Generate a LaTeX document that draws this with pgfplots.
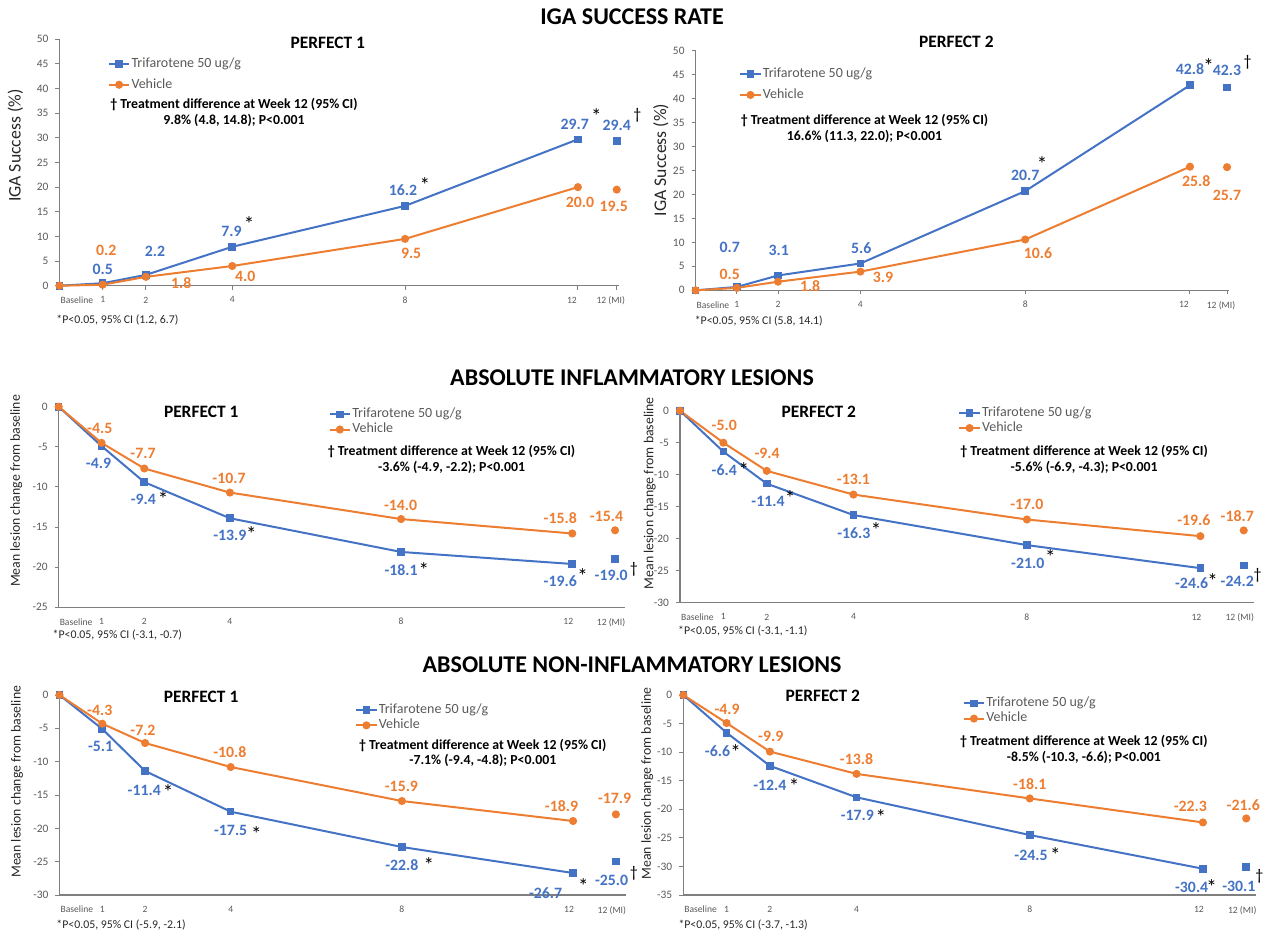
\documentclass[border=0pt]{standalone}
\usepackage{pgfplots}
\pgfplotsset{compat=1.18}
\usepackage{fontspec}
\setmainfont{Carlito}
\definecolor{cblue}{HTML}{4472C4}
\definecolor{corange}{HTML}{ED7D31}
\definecolor{tickgray}{HTML}{595959}
\definecolor{axisgray}{HTML}{7F7F7F}
\newcommand{\bl}[3]{\node[font=\bfseries\fontsize{7.9}{8}\selectfont, text=cblue, inner sep=0pt] at (axis cs:#1,#2) {#3};}
\newcommand{\ol}[3]{\node[font=\bfseries\fontsize{7.9}{8}\selectfont, text=corange, inner sep=0pt] at (axis cs:#1,#2) {#3};}
\newcommand{\st}[2]{\node[font=\fontsize{10.5}{10}\selectfont, inner sep=0pt] at (axis cs:#1,#2) {*};}
\newcommand{\dg}[2]{\node[font=\fontsize{8}{8}\selectfont, inner sep=0pt] at (axis cs:#1,#2) {†};}
\newcommand{\ptitle}[3]{\node[font=\bfseries\fontsize{8.7}{9}\selectfont] at (axis cs:#1,#2) {#3};}
\newcommand{\annot}[3]{\node[font=\bfseries\fontsize{6.9}{7.9}\selectfont, align=center] at (axis cs:#1,#2) {† Treatment difference at Week 12 (95\% CI)\\#3};}
\newcommand{\foot}[3]{\node[anchor=west, font=\fontsize{5.9}{6}\selectfont, inner sep=0pt, text=black!85] at (axis cs:#1,#2) {#3};}
\newcommand{\ylab}[4]{\node[rotate=90, font=\fontsize{#3}{9}\selectfont, text=black!85] at (axis cs:#1,#2) {#4};}
\pgfplotsset{
 panel/.style={
  scale only axis, clip=false, anchor=south west,
  axis x line*=bottom, axis y line*=left,
  axis line style={draw=axisgray, line width=0.6pt},
  xmin=0,
  tick align=outside, major tick length=2pt,
  tick style={axisgray, line width=0.5pt},
  /pgf/number format/assume math mode=true,
  yticklabel style={font=\fontsize{5.7}{6}\selectfont, text=tickgray},
  xticklabel style={font=\fontsize{4.8}{5}\selectfont, text=tickgray},
  extra x ticks={0}, extra x tick labels={Baseline},
  extra x tick style={xticklabel style={anchor=north west, xshift=-3pt}},
  legend style={draw=none, fill=none, anchor=west, inner sep=0pt,
    font=\fontsize{7}{8}\selectfont, cells={anchor=west},
    nodes={inner sep=0.6pt, text=tickgray}},
  legend image code/.code={\draw[mark repeat=2,mark phase=2] plot coordinates {(0cm,0cm) (0.18cm,0cm) (0.36cm,0cm)};},
 },
 tri/.style={color=cblue, mark=square*, mark size=1.4pt, line width=1pt},
 veh/.style={color=corange, mark=*, mark size=1.5pt, line width=1pt},
}
\begin{document}
\begin{tikzpicture}
\path[use as bounding box] (0,0) rectangle (631.5pt,-466.5pt);
\node[font=\bfseries\fontsize{12}{14}\selectfont] at (316pt,-8.5pt) {IGA SUCCESS RATE};
\node[font=\bfseries\fontsize{12}{14}\selectfont] at (316pt,-189pt) {ABSOLUTE INFLAMMATORY LESIONS};
\node[font=\bfseries\fontsize{12}{14}\selectfont] at (316pt,-332.5pt) {ABSOLUTE NON-INFLAMMATORY LESIONS};

% ---------- IGA PERFECT 1
\begin{axis}[panel, at={(29.75pt,-142.85pt)}, width=279.7pt, height=123.2pt,
  xmax=12.95, ymin=0, ymax=50, ytick={0,5,...,50},
  xtick={1,2,4,8,12,12.9}, xticklabels={1,2,4,8,12\hspace*{6pt},12 (MI)\hspace*{6pt}},
  legend style={at={(0.0857,0.858)}, row sep=2.9pt}]
\addplot[tri] coordinates {(0,0)(1,0.5)(2,2.2)(4,7.9)(8,16.2)(12,29.7)};
\addplot[veh] coordinates {(0,0)(1,0.2)(2,1.8)(4,4.0)(8,9.5)(12,20.0)};
\addplot[tri, only marks, forget plot] coordinates {(12.9,29.4)};
\addplot[veh, only marks, forget plot] coordinates {(12.9,19.5)};
\legend{Trifarotene 50 ug/g, Vehicle}
\bl{1.0}{3.4}{0.5} \ol{1.08}{7.2}{0.2} \bl{2.21}{6.9}{2.2} \ol{2.82}{0.5}{1.8}
\bl{3.98}{11.0}{7.9} \st{4.39}{12.5} \ol{4.3}{1.83}{4.0}
\bl{7.95}{19.35}{16.2} \st{8.46}{20.5} \ol{8.14}{6.6}{9.5}
\bl{11.93}{32.75}{29.7} \st{12.43}{34.5} \bl{12.9}{32.5}{29.4} \dg{13.38}{34.6}
\ol{12.05}{16.98}{20.0} \ol{12.83}{16.2}{19.5}
\ptitle{6.21}{49.3}{PERFECT 1}
\annot{4.04}{35.1}{9.8\% (4.8, 14.8); P<0.001}
\foot{-0.08}{-7.0}{*P<0.05, 95\% CI (1.2, 6.7)}
\ylab{-1.02}{28.4}{8.85}{IGA Success (\%)}
\end{axis}

% ---------- IGA PERFECT 2
\begin{axis}[panel, at={(347.8pt,-145.15pt)}, width=266.75pt, height=119.8pt,
  xmax=12.95, ymin=0, ymax=50, ytick={0,5,...,50},
  xtick={1,2,4,8,12,12.9}, xticklabels={1,2,4,8,12\hspace*{6pt},12 (MI)\hspace*{6pt}},
  legend style={at={(0.081,0.859)}, row sep=2.9pt}]
\addplot[tri] coordinates {(0,0)(1,0.7)(2,3.1)(4,5.6)(8,20.7)(12,42.8)};
\addplot[veh] coordinates {(0,0)(1,0.5)(2,1.8)(4,3.9)(8,10.6)(12,25.8)};
\addplot[tri, only marks, forget plot] coordinates {(12.9,42.3)};
\addplot[veh, only marks, forget plot] coordinates {(12.9,25.7)};
\legend{Trifarotene 50 ug/g, Vehicle}
\bl{0.83}{9.04}{0.7} \ol{0.83}{3.34}{0.5} \bl{2.02}{8.3}{3.1} \ol{2.78}{0.9}{1.8}
\bl{4.02}{8.8}{5.6} \ol{4.55}{2.7}{3.9}
\bl{8.0}{24.0}{20.7} \st{8.41}{26.3} \ol{8.31}{7.65}{10.6}
\bl{12.0}{46.1}{42.8} \st{12.45}{46.9} \bl{12.9}{45.8}{42.3} \dg{13.4}{47.5}
\ol{12.15}{22.8}{25.8} \ol{12.9}{19.9}{25.7}
\ptitle{6.33}{51.8}{PERFECT 2}
\annot{4.1}{33.8}{16.6\% (11.3, 22.0); P<0.001}
\foot{-0.03}{-6.4}{*P<0.05, 95\% CI (5.8, 14.1)}
\ylab{-0.845}{27.2}{8.85}{IGA Success (\%)}
\end{axis}

% ---------- Inflammatory PERFECT 1
\begin{axis}[panel, at={(29.35pt,-303.65pt)}, width=283.1pt, height=100.3pt,
  xmax=13.23, ymin=-25, ymax=0, ytick={-25,-20,...,0},
  xtick={1,2,4,8,12,13}, xticklabels={1,2,4,8,12\hspace*{4pt},12 (MI)\hspace*{4pt}}, xtick style={draw=none},
  legend style={at={(0.476,0.924)}, row sep=0pt}]
\addplot[tri] coordinates {(0,0)(1,-4.9)(2,-9.4)(4,-13.9)(8,-18.1)(12,-19.6)};
\addplot[veh] coordinates {(0,0)(1,-4.5)(2,-7.7)(4,-10.7)(8,-14.0)(12,-15.8)};
\addplot[tri, only marks, forget plot] coordinates {(13,-19.0)};
\addplot[veh, only marks, forget plot] coordinates {(13,-15.4)};
\legend{Trifarotene 50 ug/g, Vehicle}
\ol{0.96}{-2.7}{-4.5} \bl{0.93}{-7.06}{-4.9} \ol{1.97}{-5.8}{-7.7}
\bl{1.98}{-11.6}{-9.4} \st{2.44}{-11.55} \ol{3.98}{-8.9}{-10.7}
\bl{4.0}{-16.0}{-13.9} \st{4.5}{-15.85} \ol{7.99}{-12.25}{-14.0}
\bl{8.0}{-20.35}{-18.1} \st{8.53}{-20.35} \ol{11.72}{-13.9}{-15.8} \ol{12.8}{-13.7}{-15.4}
\bl{11.72}{-21.7}{-19.6} \st{12.24}{-21.05} \bl{12.91}{-21.0}{-19.0} \dg{13.44}{-20.3}
\ptitle{3.33}{-0.6}{PERFECT 1}
\annot{9.18}{-6.55}{-3.6\% (-4.9, -2.2); P<0.001}
\foot{-0.15}{-28.4}{*P<0.05, 95\% CI (-3.1, -0.7)}
\ylab{-0.99}{-10.5}{6.9}{Mean lesion change from baseline}
\end{axis}

% ---------- Inflammatory PERFECT 2
\begin{axis}[panel, at={(340pt,-301.35pt)}, width=286.85pt, height=96pt,
  xmax=13.23, ymin=-30, ymax=0, ytick={-30,-25,...,0},
  xtick={1,2,4,8,12,13}, xticklabels={1,2,4,8,12\hspace*{4pt},12 (MI)\hspace*{4pt}}, xtick style={draw=none},
  legend style={at={(0.4845,0.949)}, row sep=0pt}]
\addplot[tri] coordinates {(0,0)(1,-6.4)(2,-11.4)(4,-16.3)(8,-21.0)(12,-24.6)};
\addplot[veh] coordinates {(0,0)(1,-5.0)(2,-9.4)(4,-13.1)(8,-17.0)(12,-19.6)};
\addplot[tri, only marks, forget plot] coordinates {(13,-24.2)};
\addplot[veh, only marks, forget plot] coordinates {(13,-18.7)};
\legend{Trifarotene 50 ug/g, Vehicle}
\ol{1.02}{-2.34}{-5.0} \bl{1.02}{-9.27}{-6.4} \st{1.47}{-9.2}
\ol{2.01}{-6.67}{-9.4} \bl{2.03}{-14.1}{-11.4} \st{2.54}{-13.7}
\ol{4.0}{-10.8}{-13.1} \bl{4.01}{-19.2}{-16.3} \st{4.52}{-18.7}
\ol{8.0}{-14.7}{-17.0} \bl{8.02}{-23.85}{-21.0} \st{8.54}{-22.85}
\ol{11.85}{-17.1}{-19.6} \ol{12.85}{-16.5}{-18.7}
\bl{11.8}{-27.0}{-24.6} \st{12.28}{-26.65} \bl{12.85}{-26.6}{-24.2} \dg{13.32}{-25.7}
\ptitle{3.2}{-0.2}{PERFECT 2}
\annot{9.32}{-7.58}{-5.6\% (-6.9, -4.3); P<0.001}
\foot{-0.05}{-34.4}{*P<0.05, 95\% CI (-3.1, -1.1)}
\ylab{-0.70}{-12.9}{6.9}{Mean lesion change from baseline}
\end{axis}

% ---------- Non-inflammatory PERFECT 1
\begin{axis}[panel, at={(29.75pt,-447.5pt)}, width=283.1pt, height=100pt,
  xmax=13.23, ymin=-30, ymax=0, ytick={-30,-25,...,0},
  xtick={1,2,4,8,12,13}, xticklabels={1,2,4,8,12\hspace*{4pt},12 (MI)\hspace*{4pt}}, xtick style={draw=none},
  legend style={at={(0.5215,0.886)}, row sep=0pt}]
\addplot[tri] coordinates {(0,0)(1,-5.1)(2,-11.4)(4,-17.5)(8,-22.8)(12,-26.7)};
\addplot[veh] coordinates {(0,0)(1,-4.3)(2,-7.2)(4,-10.8)(8,-15.9)(12,-18.9)};
\addplot[tri, only marks, forget plot] coordinates {(13,-25.0)};
\addplot[veh, only marks, forget plot] coordinates {(13,-17.9)};
\legend{Trifarotene 50 ug/g, Vehicle}
\ol{0.94}{-2.25}{-4.3} \bl{0.96}{-7.75}{-5.1} \ol{1.95}{-5.25}{-7.2}
\bl{1.98}{-14.25}{-11.4} \st{2.54}{-14.5} \ol{3.98}{-8.5}{-10.8}
\bl{4.0}{-20.25}{-17.5} \st{4.6}{-20.9} \ol{7.99}{-13.75}{-15.9}
\bl{8.0}{-25.5}{-22.8} \st{8.63}{-25.5} \ol{11.73}{-16.65}{-18.9} \ol{12.97}{-15.5}{-17.9}
\bl{11.36}{-29.75}{-26.7} \st{12.24}{-28.6} \bl{12.9}{-27.75}{-25.0} \dg{13.42}{-26.75}
\ptitle{3.31}{-0.25}{PERFECT 1}
\annot{9.89}{-8.7}{-7.1\% (-9.4, -4.8); P<0.001}
\foot{-0.08}{-34.5}{*P<0.05, 95\% CI (-5.9, -2.1)}
\ylab{-0.99}{-13.0}{6.9}{Mean lesion change from baseline}
\end{axis}

% ---------- Non-inflammatory PERFECT 2
\begin{axis}[panel, at={(341.65pt,-447.5pt)}, width=286.45pt, height=100pt,
  xmax=13.23, ymin=-35, ymax=0, ytick={-35,-30,...,0},
  xtick={1,2,4,8,12,13}, xticklabels={1,2,4,8,12\hspace*{4pt},12 (MI)\hspace*{4pt}}, xtick style={draw=none},
  legend style={at={(0.487,0.92)}, row sep=0pt}]
\addplot[tri] coordinates {(0,0)(1,-6.6)(2,-12.4)(4,-17.9)(8,-24.5)(12,-30.4)};
\addplot[veh] coordinates {(0,0)(1,-4.9)(2,-9.9)(4,-13.8)(8,-18.1)(12,-22.3)};
\addplot[tri, only marks, forget plot] coordinates {(13,-30.1)};
\addplot[veh, only marks, forget plot] coordinates {(13,-21.6)};
\legend{Trifarotene 50 ug/g, Vehicle}
\ol{1.01}{-2.45}{-4.9} \bl{0.79}{-9.9}{-6.6} \st{1.21}{-9.9}
\ol{2.02}{-7.3}{-9.9} \bl{2.0}{-15.75}{-12.4} \st{2.56}{-15.9}
\ol{4.0}{-11.2}{-13.8} \bl{4.02}{-21.0}{-17.9} \st{4.56}{-21.3}
\ol{8.0}{-15.6}{-18.1} \bl{8.03}{-28.0}{-24.5} \st{8.59}{-28.0}
\ol{11.71}{-19.4}{-22.3} \ol{12.93}{-19.25}{-21.6}
\bl{11.74}{-33.7}{-30.4} \st{12.2}{-33.55} \bl{12.83}{-33.5}{-30.1} \dg{13.3}{-31.8}
\ptitle{3.22}{-0.17}{PERFECT 2}
\annot{9.25}{-9.5}{-8.5\% (-10.3, -6.6); P<0.001}
\foot{-0.12}{-40.25}{*P<0.05, 95\% CI (-3.7, -1.3)}
\ylab{-0.83}{-15.5}{6.9}{Mean lesion change from baseline}
\end{axis}
\end{tikzpicture}
\end{document}
